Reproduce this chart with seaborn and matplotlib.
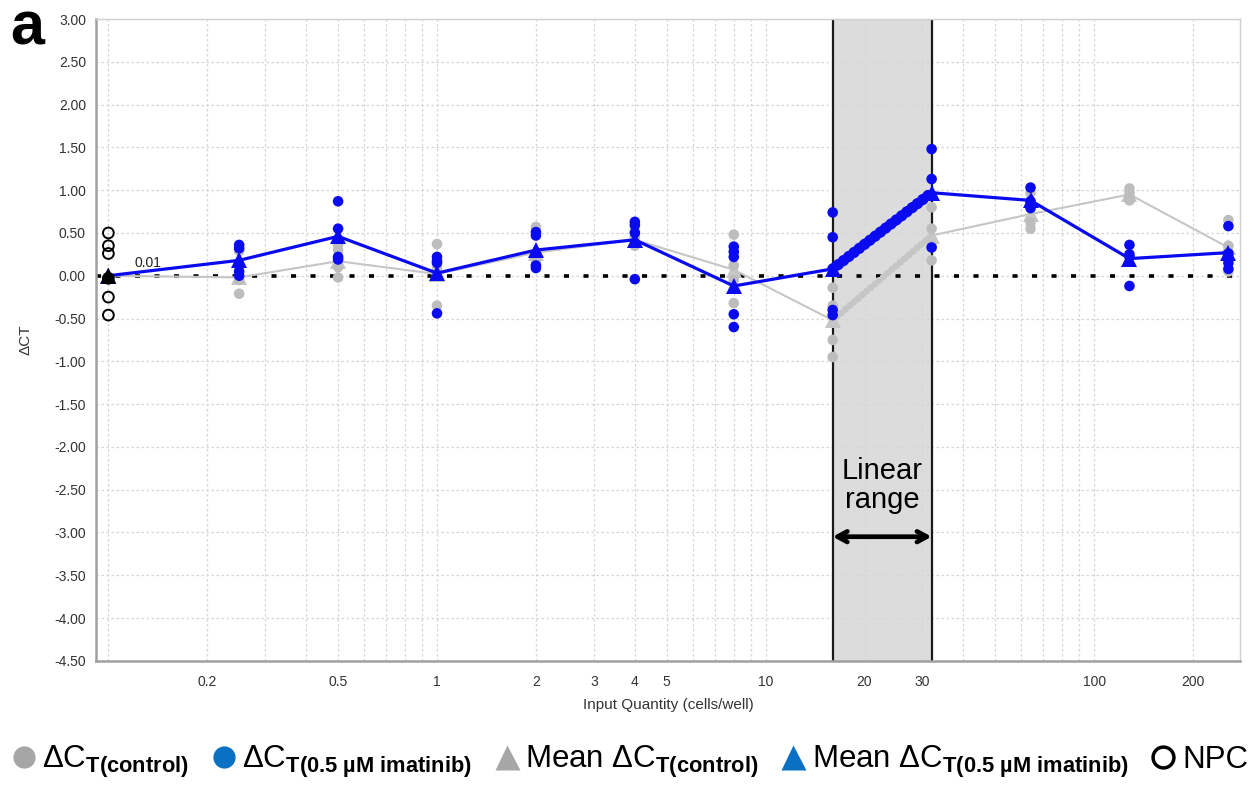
import numpy as np
import pandas as pd
import matplotlib
matplotlib.use("Agg")
import matplotlib.pyplot as plt
import seaborn as sns
from matplotlib.lines import Line2D

# ---- data -------------------------------------------------------------
# input quantity (cells/well) of the dilution series
doses = [0.25, 0.5, 1, 2, 4, 8, 16, 32, 64, 128, 256]

# replicate ΔCT values, control cells
ctrl_reps = [
    [0.29, 0.10, -0.05, -0.21],
    [0.36, 0.30, 0.10, -0.02],
    [0.37, 0.08, 0.00, -0.35],
    [0.57, 0.23, 0.19, 0.13],
    [0.52, 0.45, 0.40, 0.35],
    [0.48, 0.12, -0.05, -0.32],
    [-0.14, -0.35, -0.75, -0.95],
    [0.80, 0.55, 0.35, 0.18],
    [0.97, 0.84, 0.62, 0.55],
    [1.02, 0.97, 0.92, 0.88],
    [0.65, 0.35, 0.25, 0.05],
]
# replicate ΔCT values, 0.5 µM imatinib
imat_reps = [
    [0.36, 0.32, 0.05, 0.00],
    [0.87, 0.55, 0.22, 0.19],
    [0.22, 0.17, 0.15, -0.44],
    [0.51, 0.47, 0.12, 0.09],
    [0.63, 0.59, 0.50, -0.04],
    [0.34, 0.28, 0.22, -0.45, -0.60],
    [0.74, 0.45, -0.40, -0.46],
    [1.48, 1.13, 0.94, 0.33],
    [1.03, 0.87, 0.83, 0.79],
    [0.36, 0.25, 0.22, -0.12],
    [0.58, 0.26, 0.15, 0.08],
]

# mean curves start at the no-template control position
mean_x = [0.1, 0.25, 0.5, 1, 2, 4, 8, 16, 32, 64, 128, 256]
ctrl_mean = [0.00, -0.02, 0.17, 0.02, 0.27, 0.42, 0.07, -0.52, 0.47, 0.72, 0.95, 0.33]
imat_mean = [0.00, 0.18, 0.46, 0.03, 0.30, 0.42, -0.12, 0.08, 0.97, 0.88, 0.20, 0.27]

# no-template control (NPC)
npc_x = 0.1
npc_vals = [0.50, 0.35, 0.26, -0.03, -0.25, -0.46]
npc_mean = 0.00

linear_range = [16, 32]

x_grid = [0.1, 0.2, 0.3, 0.4, 0.5, 0.6, 0.7, 0.8, 0.9,
          1, 2, 3, 4, 5, 6, 7, 8, 9,
          10, 20, 30, 40, 50, 60, 70, 80, 90, 100, 200]
x_labeled = {0.2: "0.2", 0.5: "0.5", 1: "1", 2: "2", 3: "3", 4: "4", 5: "5",
             10: "10", 20: "20", 30: "30", 100: "100", 200: "200"}
y_ticks = [3.0, 2.5, 2.0, 1.5, 1.0, 0.5, 0.0, -0.5, -1.0, -1.5,
           -2.0, -2.5, -3.0, -3.5, -4.0, -4.5]

# ---- style ------------------------------------------------------------
sns.set_style("white")
plt.rcParams["font.family"] = ["Liberation Sans", "DejaVu Sans"]
plt.rcParams["mathtext.fontset"] = "custom"
plt.rcParams["mathtext.rm"] = "Liberation Sans"
plt.rcParams["mathtext.bf"] = "Liberation Sans:bold"
plt.rcParams["mathtext.it"] = "Liberation Sans:italic"
plt.rcParams["text.color"] = "black"

GRAY = "#bdbdbd"
GRAY_LINE = "#c6c6c6"
BLUE = "#0a0af0"
LEG_GRAY = "#a6a6a6"
LEG_BLUE = "#0a70c4"


def long_frame(reps):
    rows = [(d, v) for d, vals in zip(doses, reps) for v in vals]
    return pd.DataFrame(rows, columns=["dose", "dct"])


ctrl_df = long_frame(ctrl_reps)
imat_df = long_frame(imat_reps)
ctrl_mean_df = pd.DataFrame({"dose": mean_x, "dct": ctrl_mean})
imat_mean_df = pd.DataFrame({"dose": mean_x, "dct": imat_mean})
npc_df = pd.DataFrame({"dose": [npc_x] * len(npc_vals), "dct": npc_vals})

fig = plt.figure(figsize=(12.56, 7.89), dpi=100)
ax = fig.add_axes([0.0762, 0.1625, 0.9111, 0.8134])
ax.set_xscale("log")
ax.set_xlim(0.0915, 277.8)
ax.set_ylim(-4.5, 3.0)

# linear range band
ax.axvspan(linear_range[0], linear_range[1], color="#dcdcdc", zorder=0, lw=0)
for xb in linear_range:
    ax.axvline(xb, color="#1a1a1a", lw=1.6, zorder=1)

# zero reference
ax.axhline(0, color="black", lw=2.6, linestyle=(0, (1.4, 4.0)), zorder=2)

# control: mean line and replicates
sns.lineplot(data=ctrl_mean_df, x="dose", y="dct", ax=ax, color=GRAY_LINE,
             lw=1.5, marker="^", markersize=11, markeredgewidth=0,
             sort=False, zorder=3)
lo = mean_x.index(linear_range[0])
hi = mean_x.index(linear_range[1])
ax.plot([mean_x[lo], mean_x[hi]], [ctrl_mean[lo], ctrl_mean[hi]],
        color=GRAY_LINE, lw=5.0, linestyle=(0, (0.05, 0.75)),
        dash_capstyle="round", zorder=3)
sns.scatterplot(data=ctrl_df, x="dose", y="dct", ax=ax, color=GRAY,
                s=58, edgecolor="none", zorder=4)

# imatinib: mean line and replicates
sns.scatterplot(data=imat_df, x="dose", y="dct", ax=ax, color=BLUE,
                s=58, edgecolor="none", zorder=5)
sns.lineplot(data=imat_mean_df, x="dose", y="dct", ax=ax, color=BLUE,
             lw=2.3, marker="^", markersize=11, markeredgewidth=0,
             sort=False, zorder=6)
ax.plot([mean_x[lo], mean_x[hi]], [imat_mean[lo], imat_mean[hi]],
        color=BLUE, lw=8.0, linestyle=(0, (0.05, 0.55)),
        dash_capstyle="round", zorder=6)

# NPC wells
sns.scatterplot(data=npc_df, x="dose", y="dct", ax=ax, marker="o", s=60,
                facecolor="none", edgecolor="black", linewidth=1.4, zorder=7)
sns.scatterplot(x=[npc_x], y=[npc_mean], ax=ax, marker="^", s=130,
                color="black", edgecolor="none", zorder=8)
ax.text(0.12, 0.1, "0.01", fontsize=10, color="#222222", zorder=8)

# linear range annotation
ax.text(np.sqrt(linear_range[0] * linear_range[1]), -2.45, "Linear\nrange",
        ha="center", va="center", fontsize=21, linespacing=1.05,
        color="black", zorder=8)
ax.annotate("", xy=(linear_range[0], -3.05), xytext=(linear_range[1], -3.05),
            arrowprops=dict(arrowstyle="<->,head_length=0.7,head_width=0.38",
                            lw=3.4, color="black", shrinkA=0, shrinkB=0),
            zorder=8)

# axes decoration
ax.set_xticks(x_grid)
ax.set_xticklabels([x_labeled.get(v, "") for v in x_grid])
ax.xaxis.set_minor_locator(matplotlib.ticker.NullLocator())
ax.set_yticks(y_ticks)
ax.set_yticklabels([f"{v:.2f}" for v in y_ticks])
ax.set_axisbelow(True)
ax.grid(True, color="#d6d6d6", lw=0.9, linestyle=(0, (2, 2)))
ax.tick_params(axis="both", which="both", direction="out", length=4, width=1,
               color="#9a9a9a", labelsize=10, labelcolor="#333333", pad=3)
ax.tick_params(axis="x", pad=6)
for side in ["left", "bottom"]:
    ax.spines[side].set_color("#a0a0a0")
    ax.spines[side].set_linewidth(1.8)
for side in ["top", "right"]:
    ax.spines[side].set_color("#d0d0d0")
    ax.spines[side].set_linewidth(1.0)

ax.set_xlabel("Input Quantity (cells/well)", fontsize=11, color="#333333")
ax.xaxis.set_label_coords(0.5, -0.058)
ax.set_ylabel("ΔCT", fontsize=11, color="#333333")
ax.yaxis.set_label_coords(-0.055, 0.5)

fig.text(0.008, 0.943, "a", fontsize=44, fontweight="bold", color="black")

# legend row
handles = [
    Line2D([], [], ls="", marker="o", ms=16, color=LEG_GRAY, mec="none"),
    Line2D([], [], ls="", marker="o", ms=16, color=LEG_BLUE, mec="none"),
    Line2D([], [], ls="", marker="^", ms=18, color=LEG_GRAY, mec="none"),
    Line2D([], [], ls="", marker="^", ms=18, color=LEG_BLUE, mec="none"),
    Line2D([], [], ls="", marker="o", ms=15, mfc="none", mec="black", mew=2.5),
]
labels = [
    r"ΔC$_{\mathbf{T(control)}}$",
    r"ΔC$_{\mathbf{T(0.5\ µM\ imatinib)}}$",
    r"Mean ΔC$_{\mathbf{T(control)}}$",
    r"Mean ΔC$_{\mathbf{T(0.5\ µM\ imatinib)}}$",
    "NPC",
]
leg = fig.legend(handles, labels, loc="center",
                 bbox_to_anchor=(0.5, 1 - 762 / 789), ncol=5, frameon=False,
                 fontsize=22.5, handletextpad=0.1, columnspacing=0.6,
                 handlelength=1.0, borderaxespad=0, borderpad=0)
for t in leg.get_texts():
    t.set_color("black")

fig.savefig("out.png", dpi=100)
